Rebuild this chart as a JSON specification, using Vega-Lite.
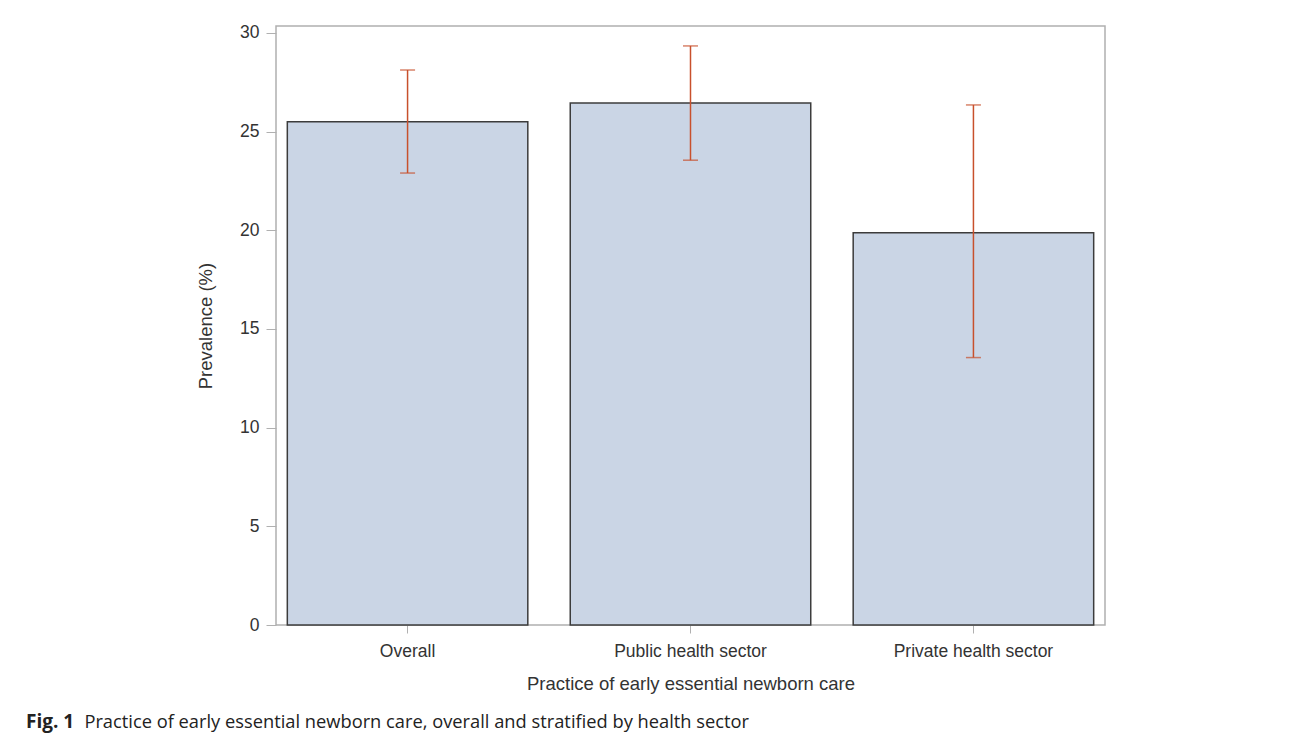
{
  "$schema": "https://vega.github.io/schema/vega-lite/v6.json",
  "autosize": {"type": "none"},
  "padding": {"left": 276, "top": 26, "right": 185, "bottom": 113},
  "width": 829,
  "height": 599,
  "background": "white",
  "title": {
    "text": "Fig. 1",
    "subtitle": "\u2800\u2800\u2800\u2800\u2005\u200aPractice of early essential newborn care, overall and stratified by health sector",
    "orient": "bottom",
    "anchor": "start",
    "frame": "group",
    "dx": -250,
    "offset": 20,
    "font": "Open Sans",
    "fontSize": 19,
    "fontWeight": "bold",
    "color": "#222",
    "subtitleFont": "Open Sans",
    "subtitleFontSize": 18.3,
    "subtitleFontWeight": "normal",
    "subtitleColor": "#222",
    "subtitlePadding": -18.45
  },
  "data": {
    "values": [
      {"category": "Overall", "prevalence": 25.5, "lower": 22.9, "upper": 28.12},
      {"category": "Public health sector", "prevalence": 26.45, "lower": 23.55, "upper": 29.34},
      {"category": "Private health sector", "prevalence": 19.88, "lower": 13.55, "upper": 26.35}
    ]
  },
  "encoding": {
    "x": {
      "field": "category",
      "type": "nominal",
      "sort": null,
      "scale": {"paddingInner": 0.15, "paddingOuter": 0.04},
      "axis": {
        "title": "Practice of early essential newborn care",
        "labelAngle": 0,
        "domain": false,
        "tickColor": "#b0b0b0",
        "tickSize": 8,
        "labelPadding": 9,
        "titlePadding": 15
      }
    }
  },
  "layer": [
    {
      "mark": {"type": "bar", "fill": "#cad5e5", "stroke": "#3c3c3c", "strokeWidth": 1.5},
      "encoding": {
        "y": {
          "field": "prevalence",
          "type": "quantitative",
          "scale": {"domain": [0, 30.35], "nice": false},
          "axis": {
            "title": "Prevalence (%)",
            "values": [0, 5, 10, 15, 20, 25, 30],
            "grid": false,
            "domain": false,
            "tickColor": "#b0b0b0",
            "tickSize": 10,
            "labelPadding": 7,
            "titlePadding": 24
          }
        }
      }
    },
    {
      "mark": {"type": "rule", "color": "#c8502c", "strokeWidth": 1.5},
      "encoding": {
        "y": {"field": "lower", "type": "quantitative"},
        "y2": {"field": "upper"}
      }
    },
    {
      "mark": {"type": "tick", "color": "#c8502c", "size": 15, "thickness": 1.5},
      "encoding": {"y": {"field": "lower", "type": "quantitative"}}
    },
    {
      "mark": {"type": "tick", "color": "#c8502c", "size": 15, "thickness": 1.5},
      "encoding": {"y": {"field": "upper", "type": "quantitative"}}
    }
  ],
  "config": {
    "view": {"stroke": "#b0b0b0", "strokeWidth": 1.5},
    "axis": {
      "labelFont": "Liberation Sans",
      "titleFont": "Liberation Sans",
      "labelFontSize": 17.5,
      "titleFontSize": 18.5,
      "labelColor": "#333",
      "titleColor": "#333",
      "titleFontWeight": "normal"
    }
  }
}
